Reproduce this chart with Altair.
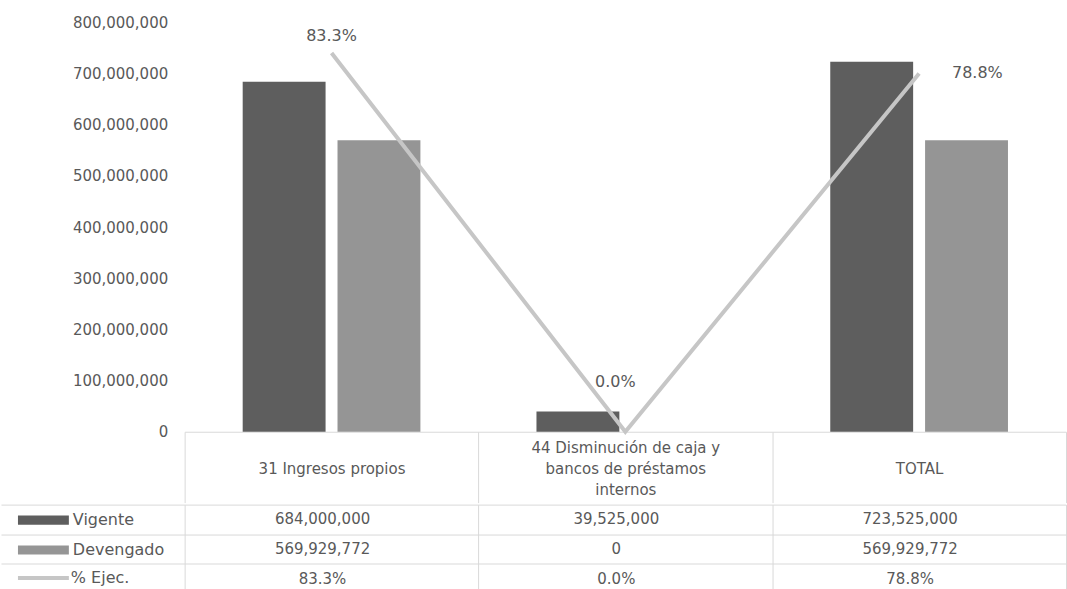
import altair as alt
import pandas as pd

# ---------------- data ----------------
categories = [
    "31 Ingresos propios",
    "44 Disminución de caja y\nbancos de préstamos\ninternos",
    "TOTAL",
]
series = ["Vigente", "Devengado"]
vigente = [684000000, 39525000, 723525000]
devengado = [569929772, 0, 569929772]
pct_ejec = [0.833, 0.0, 0.788]
pct_name = "% Ejec."
table_rows = ["Vigente", "Devengado", "% Ejec."]
y_ticks = [0, 100000000, 200000000, 300000000, 400000000,
           500000000, 600000000, 700000000, 800000000]

# ---------------- tables ----------------
bars_df = pd.DataFrame(
    [{"category": c, "series": "Vigente", "value": v} for c, v in zip(categories, vigente)]
    + [{"category": c, "series": "Devengado", "value": v} for c, v in zip(categories, devengado)]
)
line_df = pd.DataFrame({"category": categories, "pct": pct_ejec, "name": pct_name})

tbl = []
for c, v, d, p in zip(categories, vigente, devengado, pct_ejec):
    tbl.append({"category": c, "row": "Vigente", "text": f"{v:,}"})
    tbl.append({"category": c, "row": "Devengado", "text": f"{d:,}"})
    tbl.append({"category": c, "row": "% Ejec.", "text": f"{p*100:.1f}%"})
table_df = pd.DataFrame(tbl)

# ---------------- styles ----------------
FONT = "DejaVu Sans"
TXT = "#595959"
GRID = "#d9d9d9"
W = 883
H = 410
BAR_COLORS = ["#5e5e5e", "#959595"]
LINE_COLOR = "#c6c6c6"

x_scale = alt.Scale(domain=categories, paddingInner=0, paddingOuter=0)

x_main = alt.X(
    "category:N", sort=categories, scale=x_scale,
    axis=alt.Axis(
        title=None, labelAngle=0,
        labelExpr="indexof(datum.label, '\\n') < 0 ? ['', datum.label] : split(datum.label, '\\n')",
        labelFont=FONT, labelFontSize=15, labelColor=TXT, labelBaseline="middle",
        labelLineHeight=21, labelLimit=400, labelPadding=-55,
        tickBand="extent", tickSize=71, tickColor=GRID, tickWidth=1,
        domainColor=GRID, domainWidth=1,
    ),
)

bars = alt.Chart(bars_df).mark_bar().encode(
    x=x_main,
    xOffset=alt.XOffset("series:N", sort=series,
                        scale=alt.Scale(domain=series, paddingInner=0.126, paddingOuter=0.612)),
    y=alt.Y("value:Q", scale=alt.Scale(domain=[0, 800000000]),
            axis=alt.Axis(title=None, values=y_ticks, labelExpr="format(datum.value, ',')",
                          grid=False, ticks=False, domain=False, labelPadding=17,
                          labelFont=FONT, labelFontSize=15, labelColor=TXT)),
    fill=alt.Fill("series:N", sort=series,
                  scale=alt.Scale(domain=series, range=BAR_COLORS),
                  legend=alt.Legend(title=None, orient="none", legendX=-150, legendY=490,
                                    symbolType="M-3,-0.54H3V0.54H-3Z", symbolSize=289,
                                    symbolStrokeWidth=0, labelFont=FONT, labelFontSize=16,
                                    labelColor=TXT, labelOffset=21, rowPadding=13)),
)

pct_y = alt.Y("pct:Q", scale=alt.Scale(domain=[0, 0.9]), axis=None)

line = alt.Chart(line_df).mark_line(strokeWidth=4).encode(
    x=alt.X("category:N", sort=categories, scale=x_scale),
    y=pct_y,
    stroke=alt.Stroke("name:N", scale=alt.Scale(domain=[pct_name], range=[LINE_COLOR]),
                      legend=alt.Legend(title=None, orient="none", legendX=-152, legendY=546,
                                        symbolType="M-3,0H3", symbolSize=289,
                                        symbolStrokeWidth=4, labelFont=FONT, labelFontSize=16,
                                        labelColor=TXT, labelOffset=17)),
)


def pct_label(i, **kw):
    return alt.Chart(line_df).transform_filter(
        alt.datum.category == categories[i]
    ).mark_text(font=FONT, fontSize=16, color=TXT, **kw).encode(
        x=alt.X("category:N", sort=categories, scale=x_scale),
        y=pct_y,
        text=alt.Text("pct:Q", format=".1%"),
    )


lab0 = pct_label(0, dy=-17)
lab1 = pct_label(1, dx=-10, dy=-50)
lab2 = pct_label(2, dx=33, align="left")

main = alt.layer(bars, line, lab0, lab1, lab2).resolve_scale(y="independent").properties(
    width=W, height=H
)

table = alt.Chart(table_df).mark_text(font=FONT, fontSize=15, color=TXT, dx=-9).encode(
    x=alt.X("category:N", sort=categories, scale=x_scale,
            axis=alt.Axis(title=None, labels=False, ticks=False, domain=False, grid=True,
                          tickBand="extent", gridColor=GRID, gridWidth=1)),
    y=alt.Y("row:N", sort=table_rows,
            scale=alt.Scale(domain=table_rows, paddingInner=0, paddingOuter=0),
            axis=alt.Axis(title=None, labels=False, domain=False, grid=True, ticks=True,
                          tickBand="extent", tickSize=184, tickColor=GRID, gridColor=GRID,
                          gridWidth=1, tickWidth=1)),
    text="text:N",
).properties(width=W, height=89)

chart = alt.vconcat(main, table, spacing=0).resolve_scale(
    x="independent", y="independent"
).properties(
    padding={"left": 0, "top": 15, "right": 0, "bottom": 0}
).configure(font=FONT).configure_view(strokeWidth=0, strokeOpacity=0)

chart.save("out.html", embed_options={"renderer": "svg", "actions": False})
